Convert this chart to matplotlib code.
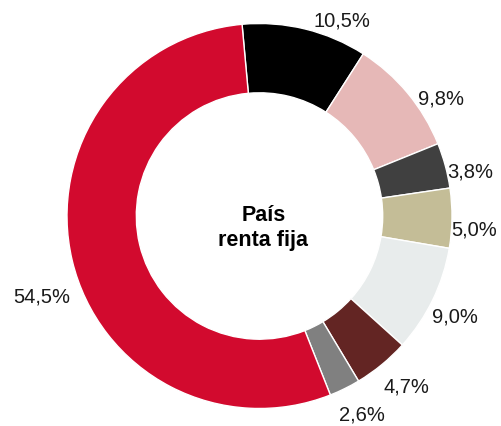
import numpy as np
import matplotlib
matplotlib.use("Agg")
import matplotlib.pyplot as plt

plt.rcParams['font.family'] = ['Liberation Sans', 'DejaVu Sans']

labels = ["10,5%", "9,8%", "3,8%", "5,0%", "9,0%", "4,7%", "2,6%", "54,5%"]
values = [10.5, 9.8, 3.8, 5.0, 9.0, 4.7, 2.6, 54.5]
colors = ["#000000", "#E6B8B7", "#404040", "#C4BD97", "#E8ECEC",
          "#632523", "#808080", "#D20A2E"]
center_title = "País\nrenta fija"

# label placement style (angle offset in degrees, radial distance)
lab_dang = [-9.3, -6.9, -3.3, -3.2, -1.4, 1.3, 0.9, 7.0]
lab_r = [1.10, 1.12, 1.12, 1.12, 1.14, 1.17, 1.16, 1.205]

W, H = 502, 426
fig = plt.figure(figsize=(W / 100, H / 100), dpi=100)
ax = fig.add_axes([0, 0, 1, 1])

cx, cy, R = 259.5, 216.0, 192.5  # pixel geometry of the ring
wedges, _ = ax.pie(values, colors=colors, startangle=95.2, counterclock=False,
                   radius=1.0,
                   wedgeprops=dict(width=0.36, edgecolor="white", linewidth=1.0))

for w, lab, da, r in zip(wedges, labels, lab_dang, lab_r):
    mid = np.deg2rad((w.theta1 + w.theta2) / 2 + da)
    ax.text(r * np.cos(mid), r * np.sin(mid), lab, ha="center", va="center",
            fontsize=14.5, color="#1a1a1a")

ax.text(0.02, -0.06, center_title, ha="center", va="center", fontsize=15.5,
        fontweight="bold", color="#000000", linespacing=1.25)

ax.set_xlim(-cx / R, (W - cx) / R)
ax.set_ylim(-(H - cy) / R, cy / R)
ax.set_aspect("equal", adjustable="datalim")
ax.axis("off")

fig.savefig("out.png", dpi=100, facecolor="white")
